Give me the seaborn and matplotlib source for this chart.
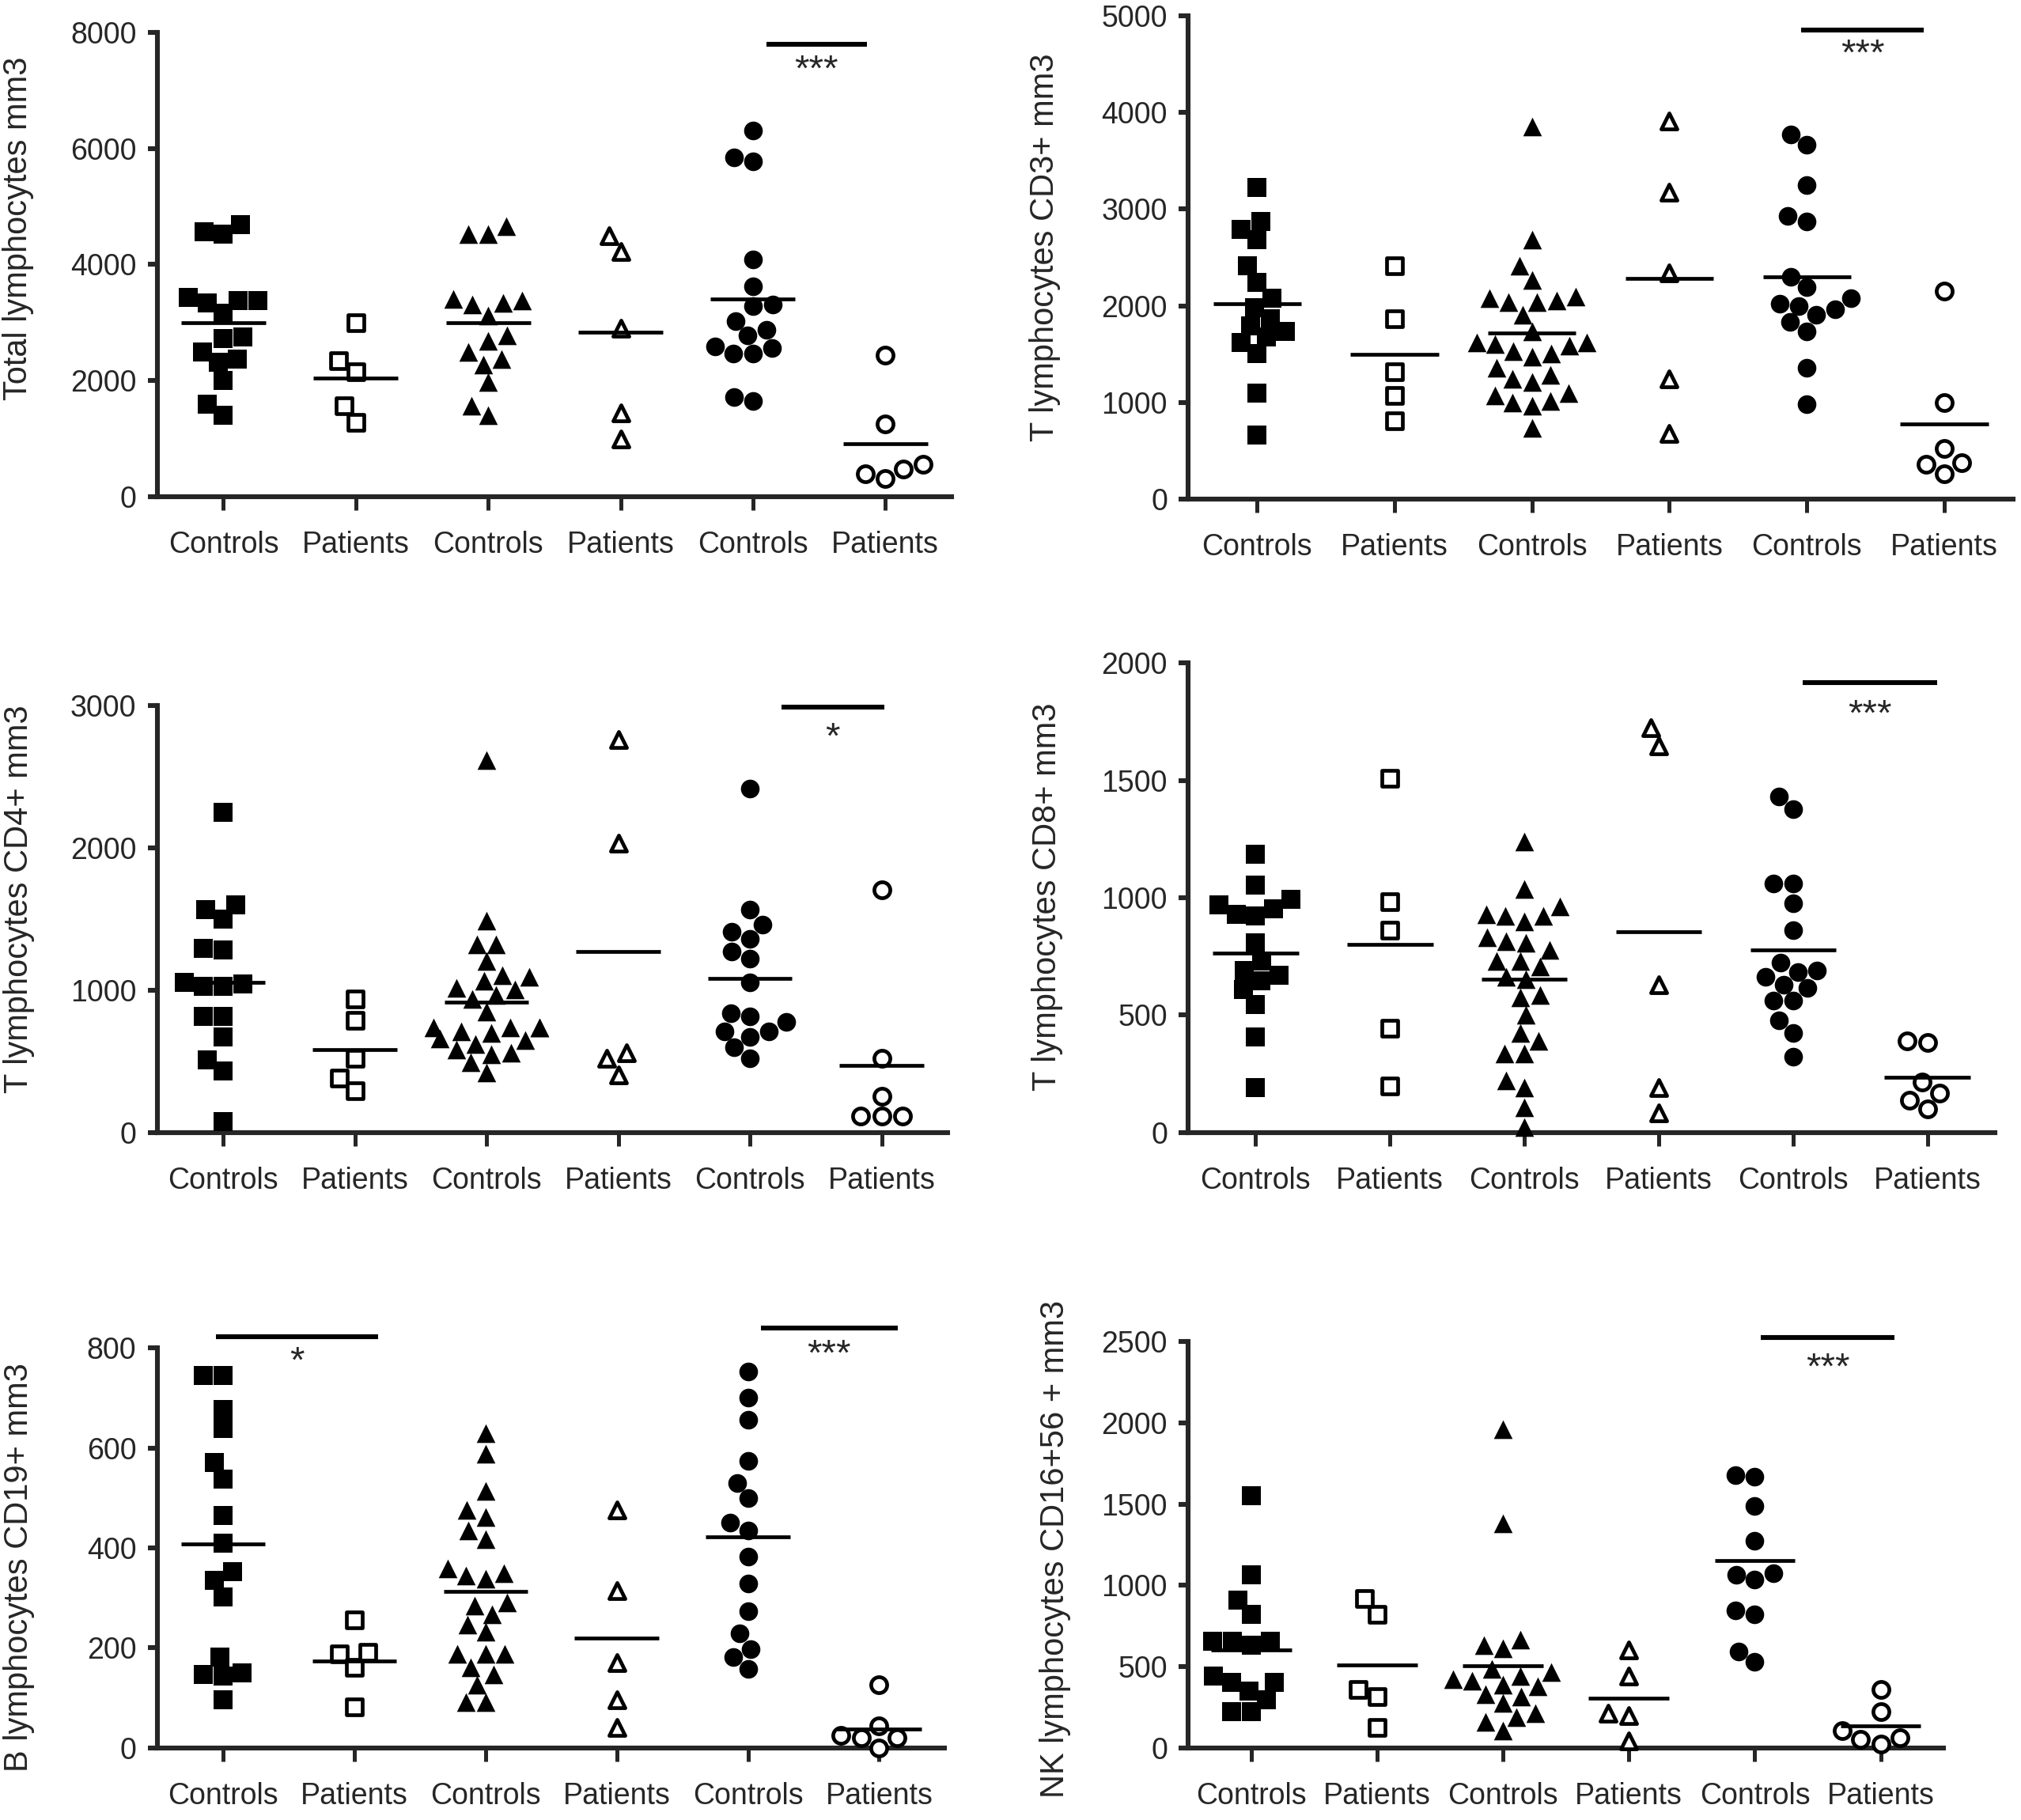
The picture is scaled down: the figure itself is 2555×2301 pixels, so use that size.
import numpy as np
import pandas as pd
import seaborn as sns
import matplotlib
matplotlib.use("Agg")
import matplotlib.pyplot as plt

sns.set_style("ticks")
plt.rcParams["font.family"] = ["Liberation Sans", "DejaVu Sans"]

group_keys = ["C1", "P1", "C2", "P2", "C3", "P3"]
group_labels = ["Controls", "Patients"] * 3
markers = ["s", "s", "^", "^", "o", "o"]
filled = [True, False, True, False, True, False]

# total lymphocytes
total_vals = [
    [4690, 4530, 4560, 3375, 3340, 3375, 3440, 3160, 2720, 2750, 2500, 2310, 2375, 2000, 1590, 1400],
    [3000, 2345, 2155, 1560, 1280],
    [4660, 4530, 4530, 3375, 3310, 3340, 3400, 3125, 2780, 2690, 2500, 2375, 2280, 1970, 1560, 1400],
    [4220, 4500, 2900, 1440, 1000],
    [6310, 5780, 5840, 4090, 3625, 3310, 3280, 3030, 2875, 2780, 2590, 2560, 2470, 2470, 1655, 1720],
    [2440, 1250, 470, 310, 400, 560],
]
total_means = [3000, 2050, 3000, 2830, 3400, 906]

# CD3+
cd3_vals = [
    [3226, 2792, 2868, 2679, 2415, 2245, 2075, 1981, 1868, 1792, 1679, 1623, 1736, 1509, 1094, 660],
    [2415, 1868, 1320, 1075, 811],
    [3849, 2679, 2415, 2264, 2075, 2038, 2057, 2038, 2094, 1906, 1736, 1623, 1604, 1623, 1585,
     1528, 1509, 1472, 1283, 1245, 1094, 1075, 1000, 962, 1019, 736, 1208, 1358],
    [3906, 3170, 2340, 1245, 679],
    [3774, 3660, 3245, 2868, 2925, 2302, 2189, 2075, 2000, 2019, 1962, 1906, 1830, 1736, 1358, 981],
    [2151, 1000, 377, 264, 358, 528],
]
cd3_means = [2019, 1498, 1717, 2283, 2302, 774]

# CD4+
cd4_vals = [
    [2250, 1564, 1602, 1500, 1284, 1297, 1055, 1030, 1030, 1042, 814, 814, 674, 509, 432, 76],
    [941, 788, 521, 381, 292],
    [2619, 1487, 1322, 1322, 1208, 1106, 1093, 1068, 1017, 1004, 941, 966, 852, 737, 712, 737,
     699, 737, 737, 648, 623, 661, 547, 585, 559, 496, 420],
    [2759, 2034, 559, 521, 407],
    [2415, 1564, 1462, 1411, 1360, 1271, 1220, 1055, 839, 814, 775, 712, 674, 712, 597, 521],
    [1703, 521, 114, 114, 114, 254],
]
cd4_means = [1055, 585, 915, 1271, 1081, 470]

# CD8+
cd8_vals = [
    [1185, 1054, 992, 954, 923, 931, 969, 808, 731, 692, 646, 669, 608, 546, 408, 192],
    [1508, 985, 862, 446, 200],
    [1238, 1038, 962, 931, 923, 923, 900, 831, 808, 815, 777, 731, 731, 708, 662, 654, 577, 585,
     500, 423, 392, 338, 338, 223, 192, 108, 23],
    [1646, 1723, 631, 192, 85],
    [1431, 1377, 1062, 1062, 977, 862, 723, 692, 685, 662, 631, 615, 562, 562, 477, 423, 323],
    [392, 385, 169, 215, 100, 138],
]
cd8_means = [765, 800, 654, 857, 777, 235]

# CD19+
cd19_vals = [
    [745, 745, 677, 639, 571, 537, 465, 410, 352, 335, 301, 181, 147, 144, 150, 96],
    [256, 188, 161, 191, 82],
    [629, 588, 513, 475, 462, 434, 417, 359, 349, 345, 338, 291, 284, 267, 246, 232, 188, 188,
     188, 161, 147, 126, 92, 92],
    [475, 315, 171, 96, 41],
    [752, 701, 656, 574, 530, 499, 451, 434, 383, 328, 274, 229, 198, 181, 157],
    [126, 44, 20, 0, 20, 25],
]
cd19_means = [407, 174, 312, 220, 422, 38]

# NK CD16+56+
nk_vals = [
    [1551, 1065, 907, 823, 654, 633, 654, 654, 443, 401, 295, 348, 222, 222, 401],
    [823, 918, 359, 316, 127],
    [1962, 1382, 633, 665, 612, 485, 443, 422, 390, 380, 411, 464, 316, 327, 274, 211, 190, 158, 105],
    [601, 443, 211, 200, 42],
    [1677, 1667, 1487, 1276, 1076, 1034, 1065, 844, 823, 527, 591],
    [359, 222, 105, 63, 21, 53],
]
nk_means = [601, 511, 506, 306, 1150, 137]

# significance bars: (x start, x end, bar y, text y, text)
total_sig = [(4.1, 4.86, 7790, 7330, "***")]
cd3_sig = [(3.96, 4.85, 4849, 4590, "***")]
cd4_sig = [(4.24, 5.02, 2987, 2770, "*")]
cd8_sig = [(4.07, 5.07, 1918, 1775, "***")]
cd19_sig = [(-0.05, 1.18, 822, 770, "*"), (4.1, 5.14, 839, 785, "***")]
nk_sig = [(4.05, 5.11, 2527, 2330, "***")]

panels = [
    (total_vals, total_means, total_sig, "Total lymphocytes mm3", 8000, 2000,
     [0.0778, 0.7271, 0.393, 0.2551], 0.578),
    (cd3_vals, cd3_means, cd3_sig, "T lymphocytes CD3+ mm3", 5000, 1000,
     [0.588, 0.7257, 0.408, 0.2658], 0.52),
    (cd4_vals, cd4_means, cd4_sig, "T lymphocytes CD4+ mm3", 3000, 1000,
     [0.0778, 0.3777, 0.391, 0.2346], 0.547),
    (cd8_vals, cd8_means, cd8_sig, "T lymphocytes CD8+ mm3", 2000, 500,
     [0.588, 0.3777, 0.399, 0.258], 0.503),
    (cd19_vals, cd19_means, cd19_sig, "B lymphocytes CD19+ mm3", 800, 200,
     [0.0778, 0.0397, 0.3897, 0.2197], 0.452),
    (nk_vals, nk_means, nk_sig, "NK lymphocytes CD16+56 + mm3", 2500, 500,
     [0.588, 0.0397, 0.3737, 0.2232], 0.49),
]

fig = plt.figure(figsize=(25.55, 23.01), dpi=100)

for vals, means, sig, ylabel, ymax, ystep, rect, label_y in panels:
    ax = fig.add_axes(rect)
    df = pd.DataFrame({
        "group": np.repeat(group_keys, [len(v) for v in vals]),
        "value": np.concatenate(vals),
    })
    for key, mk, fill in zip(group_keys, markers, filled):
        sns.swarmplot(data=df[df.group == key], x="group", y="value", order=group_keys,
                      marker=mk, size=17 if fill else 14.5,
                      color="black" if fill else "white", edgecolor="black",
                      linewidth=0 if fill else 3.4, clip_on=False, zorder=3, ax=ax)
    pos = np.arange(len(group_keys))
    ax.hlines(means, pos - 0.32, pos + 0.32, color="black", lw=3.4, zorder=4)

    for x0, x1, yb, yt, txt in sig:
        ax.plot([x0, x1], [yb, yb], color="black", lw=4.4, clip_on=False,
                solid_capstyle="butt")
        ax.text((x0 + x1) / 2, yt, txt, ha="center", va="center", fontsize=34)

    ax.set_xlim(-0.5, 5.5)
    ax.set_ylim(0, ymax)
    ax.set_yticks(np.arange(0, ymax + 1, ystep))
    ax.set_xticks(pos)
    ax.set_xticklabels(group_labels)
    ax.set_xlabel("")
    ax.set_ylabel(ylabel, fontsize=30)
    ax.yaxis.set_label_coords(-0.155, label_y)
    sns.despine(ax=ax)
    for side in ["left", "bottom"]:
        ax.spines[side].set_linewidth(4.4)
    ax.tick_params(axis="y", length=9, width=4.4, labelsize=27, pad=10)
    ax.tick_params(axis="x", length=12, width=3.6, labelsize=27, pad=19)

fig.savefig("out.png", dpi=100)
